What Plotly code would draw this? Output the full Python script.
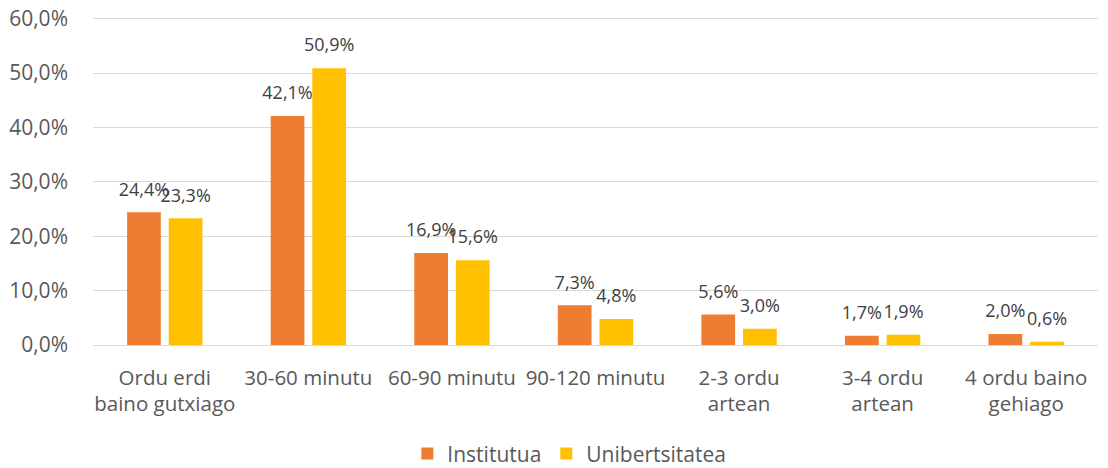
import plotly.graph_objects as go

categories = ["Ordu erdi<br>baino gutxiago", "30-60 minutu", "60-90 minutu", "90-120 minutu",
              "2-3 ordu<br>artean", "3-4 ordu<br>artean", "4 ordu baino<br>gehiago"]
institutua = [24.4, 42.1, 16.9, 7.3, 5.6, 1.7, 2.0]
unibertsitatea = [23.3, 50.9, 15.6, 4.8, 3.0, 1.9, 0.6]
series_names = ["Institutua", "Unibertsitatea"]
colors = ["#ED7D31", "#FFC000"]
tick_vals = [0, 10, 20, 30, 40, 50, 60]
tick_text = ["0,0%", "10,0%", "20,0%", "30,0%", "40,0%", "50,0%", "60,0%"]

def fmt(v):
    return f"{v:.1f}".replace(".", ",") + "%"

FONT = "Open Sans"
GAP = 0.42
fig = go.Figure()
for i, (name, vals, col) in enumerate(zip(series_names, [institutua, unibertsitatea], colors)):
    fig.add_trace(go.Bar(
        x=categories, y=vals, name=name, marker=dict(color=col, line=dict(width=0)),
        offsetgroup=str(i), hoverinfo="skip",
    ))
for i, vals in enumerate([institutua, unibertsitatea]):
    fig.add_trace(go.Scatter(
        x=categories, y=vals, mode="markers+text", offsetgroup=str(i),
        marker=dict(size=18, color="rgba(0,0,0,0)"),
        text=[fmt(v) for v in vals], textposition="top center", cliponaxis=False,
        textfont=dict(family=FONT, size=18, color="#404040"),
        showlegend=False, hoverinfo="skip",
    ))

fig.update_layout(
    width=1108, height=468,
    margin=dict(l=93, r=10, t=17, b=123, autoexpand=False),
    paper_bgcolor="white", plot_bgcolor="white",
    barmode="group", bargap=GAP, bargroupgap=0.19,
    scattermode="group", scattergap=GAP,
    font=dict(family=FONT, color="#595959", size=20),
    xaxis=dict(showgrid=False, showline=False, ticks="", tickfont=dict(size=20.5, color="#595959"),
               ticklabelstandoff=18),
    yaxis=dict(range=[0, 60.3], tickvals=tick_vals, ticktext=tick_text, showgrid=True,
               gridcolor="#D9D9D9", gridwidth=1.3, zeroline=True, zerolinecolor="#D9D9D9",
               zerolinewidth=1.3, ticks="", tickfont=dict(size=21, color="#595959"),
               ticklabelstandoff=24, ticklabeloverflow="allow"),
    legend=dict(orientation="h", x=0.474, xanchor="center", yref="container", y=0.03,
                yanchor="middle", font=dict(size=21, color="#595959"), itemwidth=30),
    showlegend=True,
)
fig.write_html("out.html", config={"displayModeBar": False},
               post_script="document.body.style.margin='0';")
